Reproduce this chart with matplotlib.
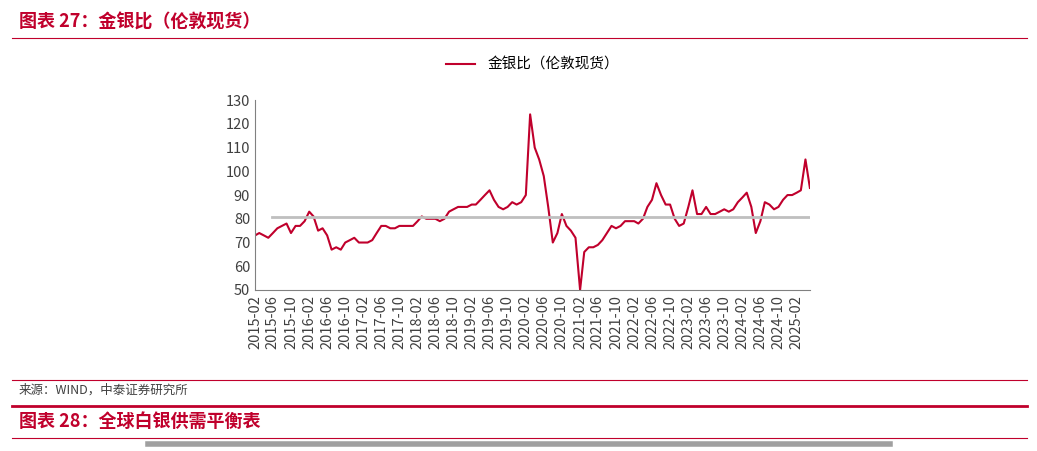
import matplotlib
matplotlib.use("Agg")
import matplotlib.pyplot as plt
import matplotlib.dates as mdates
import pandas as pd

plt.rcParams['font.family'] = ['Noto Sans CJK SC', 'DejaVu Sans']

start = "2015-02"
ratio = [73,74,73,72,74,76,77,78,74,77,77,
         79,83,81,75,76,73,67,68,67,70,71,72,
         70,70,70,71,74,77,77,76,76,77,77,77,
         77,79,81,80,80,80,79,80,83,84,85,85,
         85,86,86,88,90,92,88,85,84,85,87,86,
         87,90,124,110,105,98,85,70,74,82,77,75,
         72,50,66,68,68,69,71,74,77,76,77,79,
         79,79,78,80,85,88,95,90,86,86,80,77,
         78,85,92,82,82,85,82,82,83,84,83,84,
         87,89,91,85,74,79,87,86,84,85,88,90,
         90,91,92,105,93]
avg_ratio = 80.6
dates = pd.date_range(start, periods=len(ratio), freq="MS")
ticks = pd.date_range("2015-02", "2025-02", freq="4MS")

red = "#C0002C"
fig = plt.figure(figsize=(10.37, 4.51), dpi=100)
ax = fig.add_axes([0.246, 0.357, 0.535, 0.421])
ax.plot(dates, ratio, color=red, lw=1.5, label="金银比（伦敦现货）")
ax.axhline(avg_ratio, color="#BFBFBF", lw=2, xmin=0.03, xmax=1)
ax.set_ylim(50, 130)
ax.set_yticks(range(50, 131, 10))
ax.set_xlim(dates[0], dates[-1])
ax.set_xticks(ticks)
ax.xaxis.set_major_formatter(mdates.DateFormatter("%Y-%m"))
plt.setp(ax.get_xticklabels(), rotation=90)
ax.tick_params(labelsize=10.5, colors="#404040", length=0)
for s in ["top", "right"]:
    ax.spines[s].set_visible(False)
ax.spines["left"].set_color("#808080")
ax.spines["bottom"].set_color("#808080")
ax.legend(loc="lower center", bbox_to_anchor=(0.5, 1.08), frameon=False, fontsize=10.5)

fig.text(0.018, 0.95, "图表 27：金银比（伦敦现货）", fontsize=13, fontweight="bold", style="italic", color=red, va="center")
fig.add_artist(plt.Line2D([0.012, 0.99], [0.915, 0.915], color=red, lw=0.8))
fig.add_artist(plt.Line2D([0.012, 0.99], [0.158, 0.158], color=red, lw=0.8))
fig.text(0.018, 0.135, "来源：WIND，中泰证券研究所", fontsize=9, color="#404040", va="center")
fig.add_artist(plt.Line2D([0.012, 0.99], [0.1, 0.1], color=red, lw=2))
fig.text(0.018, 0.065, "图表 28：全球白银供需平衡表", fontsize=13, fontweight="bold", style="italic", color=red, va="center")
fig.add_artist(plt.Line2D([0.012, 0.99], [0.028, 0.028], color=red, lw=0.8))
fig.add_artist(plt.Line2D([0.143, 0.858], [0.015, 0.015], color="#A0A0A0", lw=4))
fig.savefig("out.png")
